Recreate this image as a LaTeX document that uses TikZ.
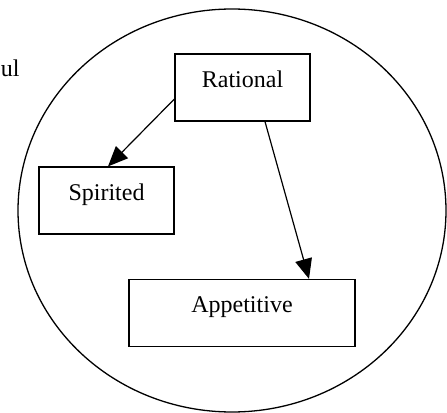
\documentclass[tikz,border=0pt]{standalone}
\usepackage{fontspec}
\setmainfont{Liberation Serif}
\usetikzlibrary{arrows.meta}

\tikzset{
	part/.style={draw, line width=0.6pt, rectangle, inner sep=0pt, text height=16.5pt, text depth=17pt},
}

\begin{document}
\begin{tikzpicture}[x=0.5pt, y=-0.5pt, >={Triangle[length=10pt,width=8.5pt]}, font=\fontsize{12pt}{14pt}\selectfont]
				\useasboundingbox (0,0) rectangle (447,413);
				\draw[line width=0.65pt] (232,210.5) ellipse [x radius=107pt, y radius=100.75pt];
				\node[anchor=base west, inner sep=0pt] (soul) at (0.5,76) {ul};
				\node[part, minimum width=67.5pt] (rational) at (242.5,87.5) {Rational};
				\node[part, minimum width=67.5pt] (spirited) at (106.5,200.5) {Spirited};
				\node[part, minimum width=113pt] (appetitive) at (242,313) {Appetitive};
				\draw[->, line width=0.6pt] ([yshift=-5.75pt]rational.west) -- ([xshift=0.75pt]spirited.north);
				\draw[->, line width=0.6pt] ([xshift=11.25pt]rational.south) -- ([xshift=33.5pt]appetitive.north);
			\end{tikzpicture}
\end{document}
